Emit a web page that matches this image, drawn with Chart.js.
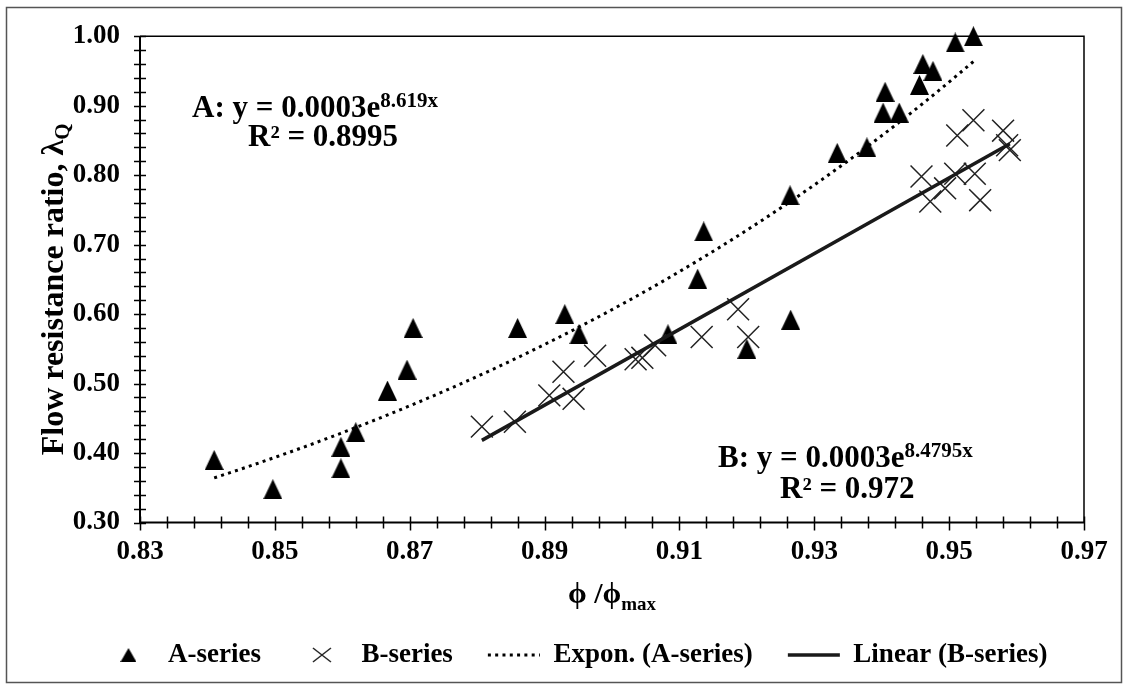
<!DOCTYPE html>
<html lang="en">
<head>
<meta charset="UTF-8" />
<title>Flow resistance ratio</title>
<style>
  body { margin: 0; background: #fff; }
  #wrap { width: 1128px; height: 689px; }
</style>
</head>
<body>
<div id="wrap"><canvas id="chart"></canvas></div>

<script src="https://cdn.jsdelivr.net/npm/chart.js"></script>
<script>
// A-series (triangles)
const aX = [0.8410, 0.8497, 0.8598, 0.8598, 0.8620, 0.8667, 0.8696, 0.8705, 0.8860,
            0.8930, 0.8951, 0.9083, 0.9127, 0.9136, 0.9200, 0.9265, 0.9264, 0.9334,
            0.9378, 0.9405, 0.9402, 0.9426, 0.9456, 0.9461, 0.9476, 0.9509, 0.9536];
const aY = [0.390, 0.348, 0.378, 0.409, 0.430, 0.490, 0.520, 0.580, 0.580,
            0.600, 0.571, 0.571, 0.651, 0.719, 0.550, 0.592, 0.771, 0.832,
            0.840, 0.920, 0.890, 0.890, 0.930, 0.960, 0.950, 0.991, 1.000];

// B-series (crosses)
const bX = [0.8807, 0.8856, 0.8907, 0.8928, 0.8943, 0.8975, 0.9035, 0.9045, 0.9064,
            0.9133, 0.9187, 0.9202, 0.9459, 0.9472, 0.9494, 0.9509, 0.9512, 0.9536,
            0.9538, 0.9546, 0.9580, 0.9586, 0.9590];
const bY = [0.438, 0.445, 0.483, 0.517, 0.478, 0.540, 0.535, 0.537, 0.555,
            0.567, 0.607, 0.567, 0.798, 0.762, 0.781, 0.802, 0.857, 0.879,
            0.802, 0.764, 0.864, 0.843, 0.836];

const xTickVals = [0.83, 0.85, 0.87, 0.89, 0.91, 0.93, 0.95, 0.97];
const yTickVals = [0.30, 0.40, 0.50, 0.60, 0.70, 0.80, 0.90, 1.00];
const xMinor = 0.004, yMinor = 0.02;

const FAMILY = "'Liberation Serif', 'Times New Roman', serif";
Chart.defaults.font.family = FAMILY;
Chart.defaults.color = '#000';

// trendlines: least squares, same as the spreadsheet does
function expFit(xs, ys) {
  const n = xs.length;
  let sx = 0, sy = 0, sxx = 0, sxy = 0;
  xs.forEach((x, i) => { const ly = Math.log(ys[i]); sx += x; sy += ly; sxx += x * x; sxy += x * ly; });
  const b = (n * sxy - sx * sy) / (n * sxx - sx * sx);
  const a = Math.exp((sy - b * sx) / n);
  return { a, b };
}
function linFit(xs, ys) {
  const n = xs.length;
  let sx = 0, sy = 0, sxx = 0, sxy = 0;
  xs.forEach((x, i) => { sx += x; sy += ys[i]; sxx += x * x; sxy += x * ys[i]; });
  const m = (n * sxy - sx * sy) / (n * sxx - sx * sx);
  return { m, c: (sy - m * sx) / n };
}

const ef = expFit(aX, aY);
const aLo = Math.min(...aX), aHi = Math.max(...aX);
const expPts = [];
for (let i = 0; i <= 60; i++) {
  const x = aLo + (aHi - aLo) * i / 60;
  expPts.push({ x, y: ef.a * Math.exp(ef.b * x) });
}
const lf = linFit(bX, bY);
const bLo = Math.min(...bX), bHi = Math.max(...bX);
const linPts = [{ x: bLo, y: lf.m * bLo + lf.c }, { x: bHi, y: lf.m * bHi + lf.c }];

// triangle markers (centred on their box like Excel)
function makeTri(w, h) {
  const c = document.createElement('canvas');
  c.width = w; c.height = h;
  const t = c.getContext('2d');
  t.fillStyle = '#000';
  t.beginPath(); t.moveTo(w / 2, 0); t.lineTo(w, h); t.lineTo(0, h); t.closePath(); t.fill();
  return c;
}
function makeCross(w, h) {
  const c = document.createElement('canvas');
  c.width = w; c.height = h;
  const t = c.getContext('2d');
  t.strokeStyle = '#222';
  t.lineWidth = 1.5;
  t.beginPath();
  t.moveTo(1, 1); t.lineTo(w - 1, h - 1);
  t.moveTo(w - 1, 1); t.lineTo(1, h - 1);
  t.stroke();
  return c;
}
const tri = makeTri(19, 20);
const triSmall = makeTri(16, 14);
const crossSmall = makeCross(20, 16);

const frame = {
  id: 'frame',
  beforeDraw(chart) {
    const c = chart.ctx;
    c.save();
    c.fillStyle = '#fff';
    c.fillRect(0, 0, chart.width, chart.height);
    c.strokeStyle = '#555';
    c.lineWidth = 1.5;
    c.strokeRect(6.5, 7.5, 1115, 675);
    c.restore();
  },
  afterDraw(chart) {
    const c = chart.ctx, a = chart.chartArea;
    const xs = chart.scales.x, ys = chart.scales.y;
    c.save();
    c.strokeStyle = '#000';
    c.lineWidth = 1.5;
    c.beginPath();
    c.moveTo(a.left, a.top); c.lineTo(a.right, a.top); c.lineTo(a.right, a.bottom);
    c.stroke();
    c.lineWidth = 2;
    c.beginPath();
    c.moveTo(a.left, a.top); c.lineTo(a.left, a.bottom); c.lineTo(a.right, a.bottom);
    c.stroke();

    // cross tick marks
    c.lineWidth = 1.5;
    c.beginPath();
    let n = Math.round((xs.max - xs.min) / xMinor);
    for (let i = 0; i <= n; i++) {
      const v = xs.min + i * xMinor;
      const q = (v - xs.min) / 0.02;
      const major = Math.abs(q - Math.round(q)) < 1e-6;
      const px = Math.round(xs.getPixelForValue(v)) + 0.5;
      c.moveTo(px, a.bottom - 6); c.lineTo(px, a.bottom + (major ? 8 : 6));
    }
    n = Math.round((ys.max - ys.min) / yMinor);
    for (let i = 0; i <= n; i++) {
      const v = ys.min + i * yMinor;
      const py = Math.round(ys.getPixelForValue(v)) + 0.5;
      c.moveTo(a.left - 6, py); c.lineTo(a.left + 6, py);
    }
    c.stroke();

    // axis titles
    c.fillStyle = '#000';
    c.textBaseline = 'alphabetic';
    c.textAlign = 'left';
    c.save();
    c.translate(63, (a.top + a.bottom) / 2 + 10);
    c.rotate(-Math.PI / 2);
    c.font = 'bold 32px ' + FAMILY;
    const t1 = 'Flow resistance ratio, \u03bb';
    const w1 = c.measureText(t1).width;
    c.font = 'bold 21px ' + FAMILY;
    const wq = c.measureText('Q').width;
    const s = -(w1 + wq) / 2;
    c.font = 'bold 32px ' + FAMILY;
    c.fillText(t1, s, 0);
    c.font = 'bold 21px ' + FAMILY;
    c.fillText('Q', s + w1, 6);
    c.restore();

    c.font = 'bold 30px ' + FAMILY;
    const t2 = '\u03d5 /\u03d5';
    const w2 = c.measureText(t2).width;
    c.font = 'bold 19px ' + FAMILY;
    const wm = c.measureText('max').width;
    const sx = (a.left + a.right) / 2 - (w2 + wm) / 2;
    c.font = 'bold 30px ' + FAMILY;
    c.fillText(t2, sx, 603);
    c.font = 'bold 19px ' + FAMILY;
    c.fillText('max', sx + w2, 610);

    // fit equations
    function eq(x, y, base, sup) {
      c.font = 'bold 31px ' + FAMILY;
      c.fillText(base, x, y);
      const w = c.measureText(base).width;
      c.font = 'bold 21px ' + FAMILY;
      c.fillText(sup, x + w, y - 10);
    }
    eq(192, 117, 'A: y = 0.0003e', '8.619x');
    c.font = 'bold 31px ' + FAMILY;
    c.fillText('R\u00b2 = 0.8995', 248, 146);
    eq(718, 467, 'B: y = 0.0003e', '8.4795x');
    c.font = 'bold 31px ' + FAMILY;
    c.fillText('R\u00b2 = 0.972', 780, 498);
    c.restore();
  }
};

const tickFont = { family: FAMILY, size: 27, weight: 'bold' };

new Chart(document.getElementById('chart'), {
  type: 'scatter',
  data: {
    datasets: [
      {
        label: 'A-series',
        data: aX.map((x, i) => ({ x, y: aY[i] })),
        pointStyle: tri,
        pointRadius: 10,
        clip: false,
        order: 3
      },
      {
        label: 'B-series',
        data: bX.map((x, i) => ({ x, y: bY[i] })),
        pointStyle: 'crossRot',
        pointRadius: 15.5,
        pointBorderWidth: 1.5,
        pointBorderColor: '#222',
        borderColor: '#222',
        clip: false,
        order: 2
      },
      {
        label: 'Expon. (A-series)',
        data: expPts,
        showLine: true,
        pointRadius: 0,
        pointStyle: 'line',
        borderColor: '#000',
        borderWidth: 3,
        borderDash: [3, 4.3],
        order: 1
      },
      {
        label: 'Linear (B-series)',
        data: linPts,
        showLine: true,
        pointRadius: 0,
        pointStyle: 'line',
        borderColor: '#1a1a1a',
        borderWidth: 3.5,
        order: 0
      }
    ]
  },
  options: {
    responsive: true,
    maintainAspectRatio: false,
    animation: false,
    events: [],
    layout: { padding: { left: 66, right: 44, top: 33, bottom: 10.5 } },
    scales: {
      x: {
        type: 'linear',
        min: 0.83, max: 0.97,
        afterBuildTicks: (s) => { s.ticks = xTickVals.map(v => ({ value: v })); },
        afterFit: (s) => { s.height = 84; },
        ticks: { callback: v => v.toFixed(2), font: tickFont, color: '#000', padding: 13, maxRotation: 0, autoSkip: false },
        grid: { display: false, drawTicks: false },
        border: { display: false }
      },
      y: {
        type: 'linear',
        min: 0.30, max: 1.00,
        afterBuildTicks: (s) => { s.ticks = yTickVals.map(v => ({ value: v })); },
        afterFit: (s) => { s.width = 74; },
        ticks: { callback: v => v.toFixed(2), font: tickFont, color: '#000', padding: 20, autoSkip: false },
        grid: { display: false, drawTicks: false },
        border: { display: false }
      }
    },
    plugins: {
      tooltip: { enabled: false },
      legend: {
        position: 'bottom',
        labels: {
          usePointStyle: true,
          pointStyleWidth: 52,
          boxHeight: 16,
          padding: 35,
          color: '#000',
          font: { family: FAMILY, size: 27, weight: 'bold' },
          sort: (p, q) => p.datasetIndex - q.datasetIndex,
          generateLabels: (chart) => {
            const items = Chart.defaults.plugins.legend.labels.generateLabels(chart);
            items.forEach(it => {
              const ds = chart.data.datasets[it.datasetIndex];
              if (ds.showLine) {
                it.lineWidth = ds.borderWidth;
                it.strokeStyle = ds.borderColor;
                it.lineDash = ds.borderDash || [];
              } else if (ds.pointStyle === tri) {
                it.pointStyle = triSmall;
              } else {
                it.pointStyle = crossSmall;
              }
            });
            return items;
          }
        }
      }
    }
  },
  plugins: [frame]
});
</script>
</body>
</html>
